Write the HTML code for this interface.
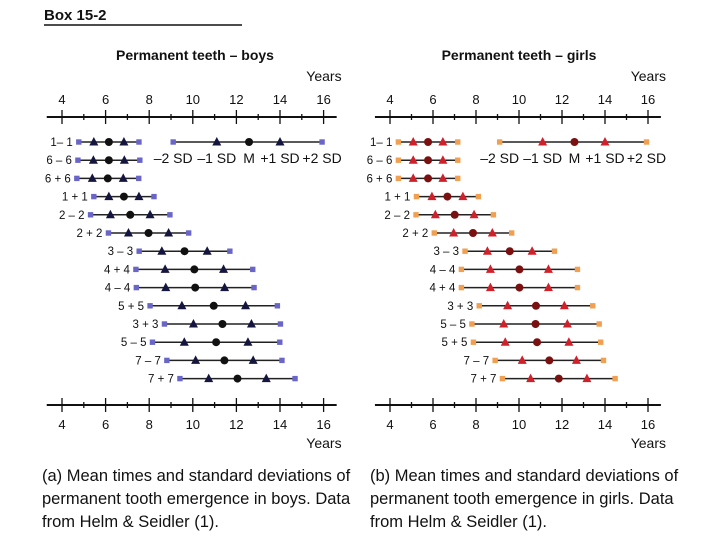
<!DOCTYPE html>
<html><head><meta charset="utf-8"><style>
html,body{margin:0;padding:0;background:#fff;width:720px;height:540px;overflow:hidden}
svg text{font-family:"Liberation Sans",sans-serif;fill:#111}
</style></head><body>
<svg id="s" width="720" height="540" viewBox="0 0 720 540">
<text x="44" y="20" font-size="15" font-weight="bold">Box 15-2</text>
<line x1="44" y1="25" x2="242" y2="25" stroke="#111" stroke-width="1.5"/>
<text x="42" y="481" font-size="16.5">(a) Mean times and standard deviations of</text>
<text x="42" y="504" font-size="16.5">permanent tooth emergence in boys. Data</text>
<text x="42" y="527" font-size="16.5">from Helm &amp; Seidler (1).</text>
<text x="370" y="481" font-size="16.5">(b) Mean times and standard deviations of</text>
<text x="370" y="504" font-size="16.5">permanent tooth emergence in girls. Data</text>
<text x="370" y="527" font-size="16.5">from Helm &amp; Seidler (1).</text>
</svg>
<script>
const boysTeeth=["1– 1","6 – 6","6 + 6","1 + 1","2 – 2","2 + 2","3 – 3","4 + 4","4 – 4","5 + 5","3 + 3","5 – 5","7 – 7","7 + 7"];
const boysMean=[6.15,6.15,6.1,6.84,7.13,7.97,9.62,10.07,10.11,10.96,11.36,11.07,11.45,12.05];
const boysSD=[0.69,0.71,0.71,0.69,0.91,0.92,1.04,1.34,1.35,1.46,1.33,1.46,1.32,1.32];
const girlsTeeth=["1– 1","6 – 6","6 + 6","1 + 1","2 – 2","2 + 2","3 – 3","4 – 4","4 + 4","3 + 3","5 – 5","5 + 5","7 – 7","7 + 7"];
const girlsMean=[5.77,5.77,5.77,6.67,7.01,7.86,9.57,10.02,10.02,10.79,10.77,10.84,11.41,11.85];
const girlsSD=[0.69,0.69,0.69,0.72,0.9,0.9,1.04,1.35,1.35,1.32,1.48,1.48,1.26,1.31];
const tickLabels=[4,6,8,10,12,14,16];
const legendLabels=["–2 SD","–1 SD","M","+1 SD","+2 SD"];
const legendValues=[9.1,11.1,12.58,14.0,15.93];

const s=document.getElementById('s');
const NS='http://www.w3.org/2000/svg';
function mk(tag,attrs,parent){const e=document.createElementNS(NS,tag);for(const k in attrs)e.setAttribute(k,attrs[k]);(parent||s).appendChild(e);return e;}

function panel(p){
  const xs=v=>p.x0+(v-4)*p.k;
  const ys=i=>142+i*18.2;
  const g=mk('g',{});
  
  
  const t=mk('text',{x:p.cx,y:60,'font-size':14,'font-weight':'bold','text-anchor':'middle'},g);
  t.textContent=p.title;
  
  
  [[117,1],[405,0]].forEach(([ay,top])=>{
    const ax=mk('g',{},g);
    
    
    mk('line',{x1:xs(3.3),x2:xs(16.6),y1:ay,y2:ay,stroke:'#111','stroke-width':2},ax);
    for(let v=4;v<=16;v++){const big=v%2===0;mk('line',{x1:xs(v),x2:xs(v),y1:ay-(big?7:3),y2:ay+(big?7:3),stroke:'#111','stroke-width':1.3},ax);}
    tickLabels.forEach(v=>{const tx=mk('text',{x:xs(v),y:top?ay-13:ay+24,'font-size':13,'text-anchor':'middle'},ax);tx.textContent=v;
      
      });
    const yr=mk('text',{x:xs(16)+18,y:top?ay-36:ay+43,'font-size':14,'text-anchor':'end'},ax);yr.textContent='Years';
    
    
  });
  function marks(v,y,parent){
    const a=xs(v[0]),b=xs(v[4]);
    mk('line',{x1:a,x2:b,y1:y,y2:y,stroke:'#222','stroke-width':1.5},parent);
    [a,b].forEach(x=>mk('rect',{x:x-2.7,y:y-2.7,width:5.4,height:5.4,fill:p.sq},parent));
    [v[1],v[3]].forEach(q=>{const x=xs(q);mk('polygon',{points:`${x-4.5},${y+3.5} ${x+4.5},${y+3.5} ${x},${y-5}`,fill:p.tri},parent);});
    mk('circle',{cx:xs(v[2]),cy:y,r:4,fill:p.dot},parent);
  }
  p.teeth.forEach((lab,i)=>{
    const r=mk('g',{},g);
    
    
    const m=p.mean[i],sd=p.sd[i];
    marks([m-2*sd,m-sd,m,m+sd,m+2*sd],ys(i),r);
    const tx=mk('text',{x:xs(m-2*sd)-6,y:ys(i)+4,'font-size':11.5,'text-anchor':'end'},r);
    tx.textContent=lab;
  });
  const lg=mk('g',{},g);
  
  
  marks(legendValues,142,lg);
  legendLabels.forEach((l,j)=>{const tx=mk('text',{x:xs(legendValues[j]),y:163,'font-size':14,'text-anchor':'middle'},lg);tx.textContent=l;});
}
panel({name:'boys',title:'Permanent teeth – boys',x0:62,k:21.8,cx:195,teeth:boysTeeth,mean:boysMean,sd:boysSD,sq:'#6a66c8',tri:'#15163f',dot:'#111'});
panel({name:'girls',title:'Permanent teeth – girls',x0:390,k:21.5,cx:519,teeth:girlsTeeth,mean:girlsMean,sd:girlsSD,sq:'#f0a050',tri:'#d0202a',dot:'#7a1010'});
</script>
</body></html>
